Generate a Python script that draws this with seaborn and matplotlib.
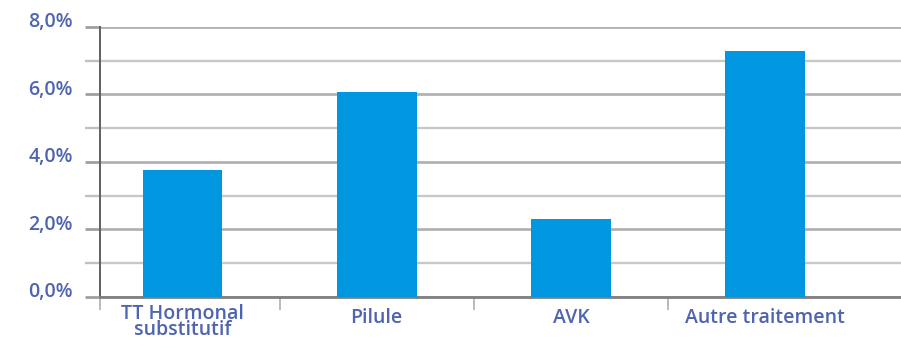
import matplotlib
matplotlib.use("Agg")
import matplotlib.pyplot as plt
from matplotlib.ticker import MultipleLocator, FuncFormatter, FixedLocator
from matplotlib.transforms import ScaledTranslation
import seaborn as sns
import pandas as pd

categories = ["TT Hormonal\nsubstitutif", "Pilule", "AVK", "Autre traitement"]
values = [3.76, 6.07, 2.31, 7.29]

df = pd.DataFrame({"traitement": categories, "part": values})

sns.set_theme(style="white")
plt.rcParams["font.family"] = ["Open Sans", "DejaVu Sans"]

label_color = "#4f64b0"
bar_color = "#0096E0"

fig = plt.figure(figsize=(9.01, 3.40), dpi=100)
ax = fig.add_axes([0.111, 0.1265, 0.889, 0.7941])

sns.barplot(data=df, x="traitement", y="part", order=categories,
            color=bar_color, width=0.41, saturation=1, linewidth=0,
            ax=ax, zorder=3)

x_left = -0.425
ax.set_ylim(0, 8)
ax.set_xlim(x_left, 3.70)
ax.yaxis.set_major_locator(MultipleLocator(2))
ax.yaxis.set_minor_locator(MultipleLocator(1))
ax.yaxis.set_major_formatter(FuncFormatter(lambda v, p: f"{v:.1f}".replace(".", ",") + "%"))

ax.grid(axis="y", which="major", color="#b2b2b2", linewidth=2.0, zorder=0)
ax.grid(axis="y", which="minor", color="#c8c8c8", linewidth=1.7, zorder=0)
ax.set_axisbelow(True)

for side in ["top", "right"]:
    ax.spines[side].set_visible(False)
ax.spines["left"].set_color("#606060")
ax.spines["left"].set_linewidth(1.4)
ax.spines["bottom"].set_color("#808080")
ax.spines["bottom"].set_linewidth(2.0)

ax.tick_params(axis="y", which="major", length=10.8, width=2.0, color="#a0a0a0",
               labelsize=14, labelcolor=label_color, pad=9, left=True)
ax.tick_params(axis="y", which="minor", length=10.8, width=1.7, color="#c0c0c0", left=True)
lift = ScaledTranslation(0, 7 / 100, fig.dpi_scale_trans)
for lab in ax.get_yticklabels():
    lab.set_fontweight("semibold")
    lab.set_transform(lab.get_transform() + lift)

# category separators along the baseline
ax.xaxis.set_minor_locator(FixedLocator([x_left, 0.5, 1.5, 2.5]))
ax.tick_params(axis="x", which="minor", length=9.5, width=1.1, color="#a8a8a8", bottom=True)
ax.tick_params(axis="x", which="major", length=0, labelsize=14,
               labelcolor=label_color, pad=15)
drop = ScaledTranslation(0, -4 / 100, fig.dpi_scale_trans)
for lab in ax.get_xticklabels():
    lab.set_fontweight("semibold")
    lab.set_linespacing(0.7)
    lab.set_verticalalignment("center")
    if "\n" in lab.get_text():
        # keep two-line labels clear of the baseline
        lab.set_transform(lab.get_transform() + drop)

ax.set_xlabel("")
ax.set_ylabel("")

fig.savefig("out.png", dpi=100)
